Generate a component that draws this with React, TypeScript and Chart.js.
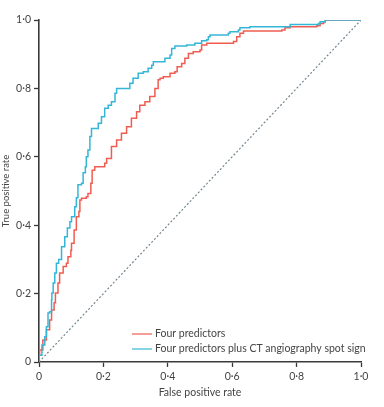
import React, { useEffect, useRef } from 'react';
import { Chart, registerables } from 'chart.js';
Chart.register(...registerables);

const seriesLabels = ['Four predictors', 'Four predictors plus CT angiography spot sign'];
const seriesColors = ['#ef5d52', '#36b6d6'];

const fourFpr = [0, 0, 0.002, 0.012, 0.023, 0.033, 0.039, 0.047, 0.051, 0.059, 0.064, 0.075, 0.085, 0.09, 0.099, 0.101, 0.109, 0.116, 0.124, 0.127, 0.132, 0.147, 0.152, 0.161, 0.165, 0.173, 0.194, 0.204, 0.21, 0.225, 0.241, 0.256, 0.272, 0.287, 0.303, 0.313, 0.329, 0.344, 0.36, 0.37, 0.376, 0.386, 0.407, 0.422, 0.429, 0.443, 0.453, 0.464, 0.479, 0.5, 0.505, 0.521, 0.604, 0.614, 0.624, 0.635, 0.754, 0.764, 0.78, 0.863, 0.873, 0.884, 0.889, 1];
const fourTpr = [0, 0.02, 0.035, 0.064, 0.094, 0.123, 0.152, 0.173, 0.202, 0.231, 0.26, 0.279, 0.289, 0.308, 0.327, 0.347, 0.386, 0.425, 0.44, 0.474, 0.479, 0.483, 0.493, 0.523, 0.561, 0.571, 0.571, 0.581, 0.595, 0.63, 0.649, 0.669, 0.688, 0.713, 0.732, 0.751, 0.761, 0.776, 0.8, 0.825, 0.83, 0.834, 0.844, 0.849, 0.863, 0.873, 0.888, 0.902, 0.907, 0.912, 0.927, 0.932, 0.937, 0.951, 0.961, 0.968, 0.971, 0.977, 0.98, 0.983, 0.99, 0.995, 1, 1];

const spotFpr = [0, 0, 0.009, 0.018, 0.023, 0.028, 0.033, 0.039, 0.04, 0.044, 0.049, 0.054, 0.061, 0.07, 0.08, 0.088, 0.096, 0.101, 0.111, 0.116, 0.121, 0.132, 0.137, 0.144, 0.147, 0.152, 0.158, 0.163, 0.179, 0.184, 0.194, 0.204, 0.215, 0.225, 0.236, 0.241, 0.272, 0.282, 0.292, 0.308, 0.324, 0.339, 0.35, 0.355, 0.381, 0.391, 0.407, 0.412, 0.422, 0.459, 0.484, 0.5, 0.505, 0.521, 0.526, 0.531, 0.588, 0.593, 0.619, 0.624, 0.655, 0.78, 0.78, 0.868, 0.873, 0.889, 1];
const spotTpr = [0, 0.02, 0.05, 0.074, 0.103, 0.143, 0.147, 0.181, 0.202, 0.231, 0.26, 0.289, 0.3, 0.337, 0.366, 0.392, 0.41, 0.425, 0.454, 0.48, 0.518, 0.523, 0.553, 0.571, 0.6, 0.62, 0.659, 0.683, 0.683, 0.698, 0.717, 0.742, 0.751, 0.761, 0.786, 0.8, 0.8, 0.815, 0.83, 0.844, 0.849, 0.859, 0.868, 0.878, 0.878, 0.888, 0.898, 0.917, 0.924, 0.927, 0.932, 0.932, 0.939, 0.942, 0.951, 0.956, 0.961, 0.966, 0.971, 0.977, 0.98, 0.98, 0.987, 0.99, 0.995, 1, 1];

const refFpr = [0, 1];
const refTpr = [0, 1];

const tickValues = [0, 0.2, 0.4, 0.6, 0.8, 1];
const tickLabels = ['0', '0·2', '0·4', '0·6', '0·8', '1·0'];
const xTitle = 'False positive rate';
const yTitle = 'True positive rate';

const FONT = "Lato, 'Open Sans', sans-serif";
const TEXT = '#444';
const AXIS = '#3a3a3a';

const toPts = (xs: number[], ys: number[]) => xs.map((x, i) => ({ x, y: ys[i] }));

const legendPlugin = {
  id: 'insideLegend',
  afterDraw(chart: any) {
    const { ctx, chartArea } = chart;
    ctx.save();
    ctx.font = `10.5px ${FONT}`;
    ctx.textBaseline = 'middle';
    ctx.textAlign = 'left';
    seriesLabels.forEach((label, i) => {
      const y = chartArea.bottom - 28 + i * 15;
      const x0 = chartArea.left + 93;
      ctx.strokeStyle = seriesColors[i];
      ctx.lineWidth = 1.2;
      ctx.beginPath();
      ctx.moveTo(x0, y);
      ctx.lineTo(x0 + 20, y);
      ctx.stroke();
      ctx.fillStyle = TEXT;
      ctx.fillText(label, x0 + 23, y);
    });
    ctx.restore();
  },
};

export default function App() {
  const ref = useRef<HTMLCanvasElement>(null);
  useEffect(() => {
    document.body.style.margin = '0';
    const setTicks = (scale: any) => {
      scale.ticks = tickValues.map((v) => ({ value: v }));
    };
    const chart = new Chart(ref.current!, {
      type: 'line',
      data: {
        datasets: [
          {
            label: seriesLabels[1],
            data: toPts(spotFpr, spotTpr),
            borderColor: seriesColors[1],
            borderWidth: 1.5,
            pointRadius: 0,
            stepped: 'before',
            order: 1,
          },
          {
            label: seriesLabels[0],
            data: toPts(fourFpr, fourTpr),
            borderColor: seriesColors[0],
            borderWidth: 1.5,
            pointRadius: 0,
            stepped: 'before',
            order: 2,
          },
          {
            label: 'reference',
            data: toPts(refFpr, refTpr),
            borderColor: '#75868f',
            borderWidth: 1.2,
            borderDash: [2, 2],
            pointRadius: 0,
            order: 3,
          },
        ],
      },
      options: {
        animation: false,
        responsive: false,
        parsing: false as any,
        layout: { padding: { left: 0, right: 23, top: 20, bottom: 0 } },
        plugins: { legend: { display: false }, tooltip: { enabled: false } },
        scales: {
          x: {
            type: 'linear',
            min: 0,
            max: 1,
            afterBuildTicks: setTicks,
            afterFit: (s: any) => { s.height = 45; },
            grid: { display: true, drawOnChartArea: false, drawTicks: true, tickLength: 5, tickColor: AXIS, tickWidth: 1.3 },
            border: { display: true, color: AXIS, width: 1.6 },
            ticks: {
              padding: 3,
              color: TEXT,
              font: { family: FONT, size: 10.5 },
              callback: (v: any) => tickLabels[tickValues.indexOf(Math.round(Number(v) * 10) / 10)],
            },
            title: { display: true, text: xTitle, color: TEXT, font: { family: FONT, size: 10.5 }, padding: { top: 0, bottom: 8 } },
          },
          y: {
            type: 'linear',
            min: 0,
            max: 1,
            afterBuildTicks: setTicks,
            afterFit: (s: any) => { s.width = 39; },
            grid: { display: true, drawOnChartArea: false, drawTicks: true, tickLength: 5, tickColor: AXIS, tickWidth: 1.3 },
            border: { display: true, color: AXIS, width: 1.6 },
            ticks: {
              padding: 3,
              color: TEXT,
              font: { family: FONT, size: 10.5 },
              callback: (v: any) => tickLabels[tickValues.indexOf(Math.round(Number(v) * 10) / 10)],
            },
            title: { display: true, text: yTitle, color: TEXT, font: { family: FONT, size: 9.5 }, padding: { top: 0.5, bottom: 0 } },
          },
        },
      },
      plugins: [legendPlugin],
    } as any);
    return () => chart.destroy();
  }, []);
  return (
    <div style={{ width: 384, height: 407 }}>
      <canvas ref={ref} width={384} height={407} style={{ display: 'block' }} />
    </div>
  );
}
